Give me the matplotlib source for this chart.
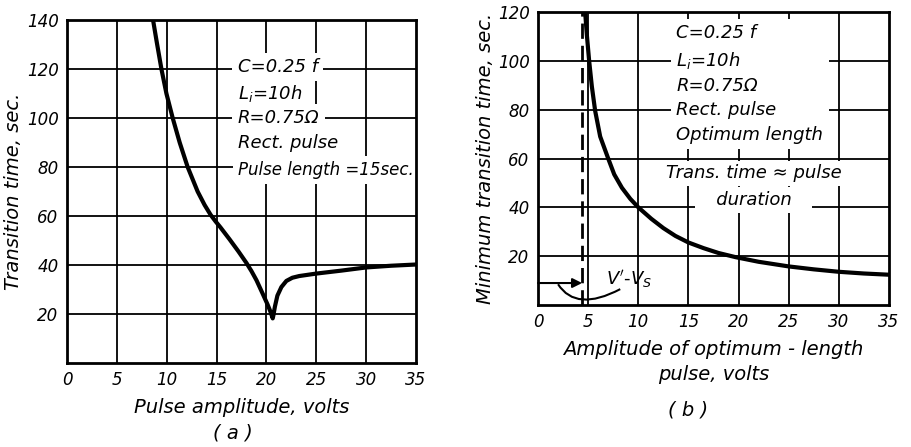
import matplotlib
matplotlib.use("Agg")
import matplotlib.pyplot as plt
from matplotlib.path import Path
from matplotlib.patches import PathPatch

plt.rcParams['font.family'] = ['DejaVu Sans']
plt.rcParams['mathtext.fontset'] = 'dejavusans'

# ---- data: panel (a) ----
a_amplitude = [8.63, 9.0, 9.47, 9.97, 10.6, 11.3, 12.1, 13.1, 13.8, 14.4, 14.9, 15.4, 16.3, 17.2,
               18.0, 18.5, 19.0, 19.6, 20.1, 20.4, 20.63,
               20.7, 20.85, 21.1, 21.5, 22.0, 22.6, 23.3, 25.0, 27.5, 30.0, 32.5, 35.0]
a_time = [140, 131, 120, 110, 100, 90, 80, 70, 64.5, 60.5, 57.8, 55.3, 50.5, 45.5,
          40.8, 37.5, 33.8, 28.5, 24.0, 21.0, 18.2,
          19.5, 23.0, 27.5, 31.0, 33.5, 34.8, 35.5, 36.5, 37.7, 39.0, 39.7, 40.2]
a_xticks = [0, 5, 10, 15, 20, 25, 30, 35]
a_yticks = [20, 40, 60, 80, 100, 120, 140]

# ---- data: panel (b) ----
b_amplitude = [4.7, 4.87, 5.1, 5.37, 5.7, 6.2, 7.0, 7.6, 8.37, 9.2, 10.0, 11.3, 12.5,
               13.7, 15.0, 16.5, 18.0, 19.7, 22.0, 25.0, 27.5, 30.0, 32.5, 35.0]
b_time = [120, 110.7, 100, 89.5, 79.5, 69, 60, 53.5, 48, 43.5, 40, 35.3, 31.5,
          28.3, 25.6, 23.3, 21.3, 19.6, 17.7, 15.8, 14.6, 13.6, 12.9, 12.4]
b_threshold = 4.4          # V' - V_S
b_xticks = [0, 5, 10, 15, 20, 25, 30, 35]
b_yticks = [20, 40, 60, 80, 100, 120]

fig = plt.figure(figsize=(9.11, 4.47), dpi=100)
W, H = 911, 447

def px_axes(l, t, r, b):
    return fig.add_axes([l / W, 1 - b / H, (r - l) / W, (b - t) / H])

axA = px_axes(67, 20, 416, 363)
axB = px_axes(538, 12, 889, 305)

TICKFS = 12
LBLFS = 14
ANNFS = 13

def style(ax, xt, yt, ymax):
    ax.set_xlim(0, 35)
    ax.set_ylim(0, ymax)
    ax.set_xticks(xt)
    ax.set_yticks(yt)
    ax.set_xticklabels([str(v) for v in xt], fontsize=TICKFS, style='italic')
    ax.set_yticklabels([str(v) for v in yt], fontsize=TICKFS, style='italic')
    ax.tick_params(length=0, pad=6)
    for v in xt[1:-1]:
        ax.axvline(v, color='black', lw=1.3, zorder=1)
    for v in yt:
        if v < ymax:
            ax.axhline(v, color='black', lw=1.3, zorder=1)
    for s in ax.spines.values():
        s.set_linewidth(2.0)
        s.set_zorder(5)

style(axA, a_xticks, a_yticks, 140)
style(axB, b_xticks, b_yticks, 120)

# ---- panel (a) ----
axA.plot(a_amplitude, a_time, color='black', lw=3.0, zorder=4,
         solid_joinstyle='round', solid_capstyle='round')
box = dict(facecolor='white', edgecolor='none', boxstyle='square,pad=0.3')
a_lines = ["C=0.25 f", "$L_i$=10h", "R=0.75Ω", "Rect. pulse", "Pulse length =15sec."]
a_ys = [120.8, 110, 100, 89.8, 78.8]
a_fs = [ANNFS, ANNFS, ANNFS, ANNFS, 12]
for s, y, f in zip(a_lines, a_ys, a_fs):
    axA.text(17.1, y, s, fontsize=f, style='italic', va='center', ha='left',
             bbox=box, zorder=3)
axA.set_xlabel("Pulse amplitude, volts", fontsize=LBLFS, style='italic', labelpad=6)
axA.set_ylabel("Transition time, sec.", fontsize=LBLFS, style='italic', labelpad=3)
fig.text(233 / W, 1 - 433 / H, "( a )", fontsize=LBLFS, style='italic', ha='center', va='center')

# ---- panel (b) ----
axB.plot(b_amplitude, b_time, color='black', lw=3.0, zorder=4, solid_joinstyle='round')
axB.axvline(b_threshold, color='black', lw=2.0, ls=(0, (5.5, 2.5)), zorder=4)
axB.annotate("", xy=(b_threshold, 9.0), xytext=(0, 9.0),
             arrowprops=dict(arrowstyle='-|>', color='black', lw=1.5, mutation_scale=14,
                             shrinkA=0, shrinkB=0), zorder=4)
br = Path([(2.0, 8.5), (3.8, -3.0), (8.2, 6.5)], [Path.MOVETO, Path.CURVE3, Path.CURVE3])
axB.add_patch(PathPatch(br, facecolor='none', edgecolor='black', lw=1.5, zorder=4))
axB.text(6.8, 10.5, "$V'$-$V_S$", fontsize=ANNFS, va='center', ha='left', zorder=4)

b_block = "C=0.25 f\n$L_i$=10h\nR=0.75Ω\nRect. pulse\nOptimum length"
axB.text(13.8, 90.5, b_block, fontsize=ANNFS, style='italic', va='center', ha='left',
         linespacing=1.45, bbox=dict(facecolor='white', edgecolor='none',
                                     boxstyle='square,pad=0.3'), zorder=3)
axB.text(21.5, 54, "Trans. time ≈ pulse", fontsize=ANNFS, style='italic', va='center',
         ha='center', bbox=dict(facecolor='white', edgecolor='none',
                                boxstyle='square,pad=0.2'), zorder=3)
axB.text(21.5, 43, "   duration   ", fontsize=ANNFS, style='italic', va='center',
         ha='center', bbox=dict(facecolor='white', edgecolor='none',
                                boxstyle='square,pad=0.2'), zorder=3)
axB.set_xlabel("Amplitude of optimum - length\npulse, volts", fontsize=LBLFS,
               style='italic', labelpad=6, linespacing=1.4)
axB.set_ylabel("Minimum transition time, sec.", fontsize=LBLFS, style='italic', labelpad=2)
fig.text(688 / W, 1 - 410 / H, "( b )", fontsize=LBLFS, style='italic', ha='center', va='center')

fig.savefig("out.png", dpi=100, facecolor='white')
